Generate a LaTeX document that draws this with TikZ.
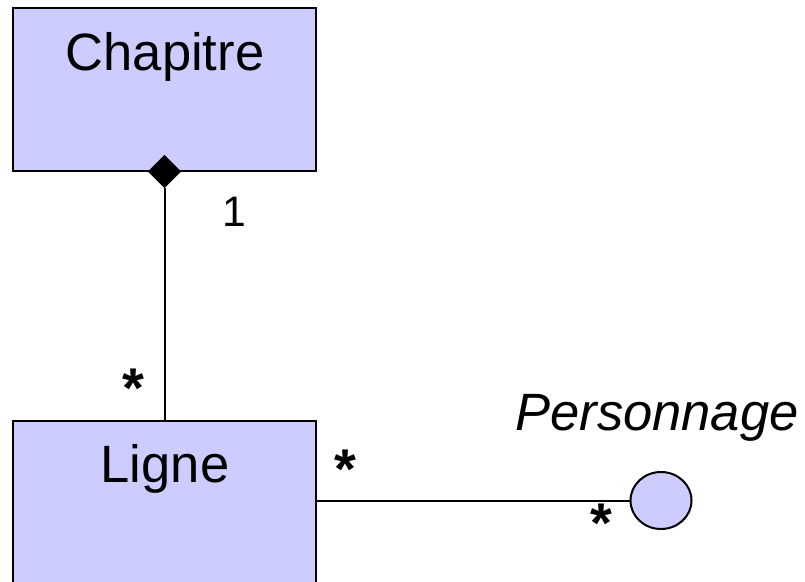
\documentclass[tikz,border=0pt]{standalone}
\usepackage{fontspec}
\setmainfont{Liberation Sans}
\usetikzlibrary{shapes.geometric}
\definecolor{classfill}{RGB}{204,204,255}
\tikzset{
  classbox/.style={draw=black, fill=classfill, line width=1.5pt, inner sep=0pt},
  classname/.style={font=\fontsize{39.4}{47}\selectfont, inner sep=0pt, anchor=base},
  mult/.style={font=\fontsize{32}{38}\selectfont, inner sep=0pt},
  star/.style={font=\fontsize{42}{48}\selectfont\bfseries, inner sep=0pt},
  assoc/.style={draw=black, line width=1.5pt}
}
\begin{document}
\begin{tikzpicture}[x=0.75pt, y=-0.75pt]
\clip (0,0) rectangle (805,581);
\fill[white] (0,0) rectangle (805,581);

% Classes
\node[classbox, minimum width=227.25pt, minimum height=121.5pt] (chap) at (164.5,89.5) {};
\node[classname] (chapname) at (165,70.7) {Chapitre};
\node[classbox, minimum width=227.25pt, minimum height=135pt] (ligne) at (164.5,511) {};
\node[classname] (lignename) at (165,482.7) {Ligne};

% Interface
\node[classbox, ellipse, minimum width=45.75pt, minimum height=42.75pt] (pers) at (661,500.5) {};
\node[classname] (persname) at (657,430.7) {\itshape Personnage};

% Composition
\node[diamond, fill=black, inner sep=0pt, outer sep=0pt, minimum width=25pt, minimum height=25pt] (dmd) at (chap.south) {};
\draw[assoc] (dmd.south) -- (dmd.south |- ligne.north);
\draw[assoc] (pers.west) -- (pers.west -| ligne.east);

% Multiplicities
\node[mult, anchor=base] (one) at (234,226) {1};
\foreach \nm/\pos in {mtop/{(133,388)}, mleft/{(345.5,469.5)}, mright/{(601.5,523)}} {
  \node[star] (\nm) at \pos {*};
}
\end{tikzpicture}
\end{document}
